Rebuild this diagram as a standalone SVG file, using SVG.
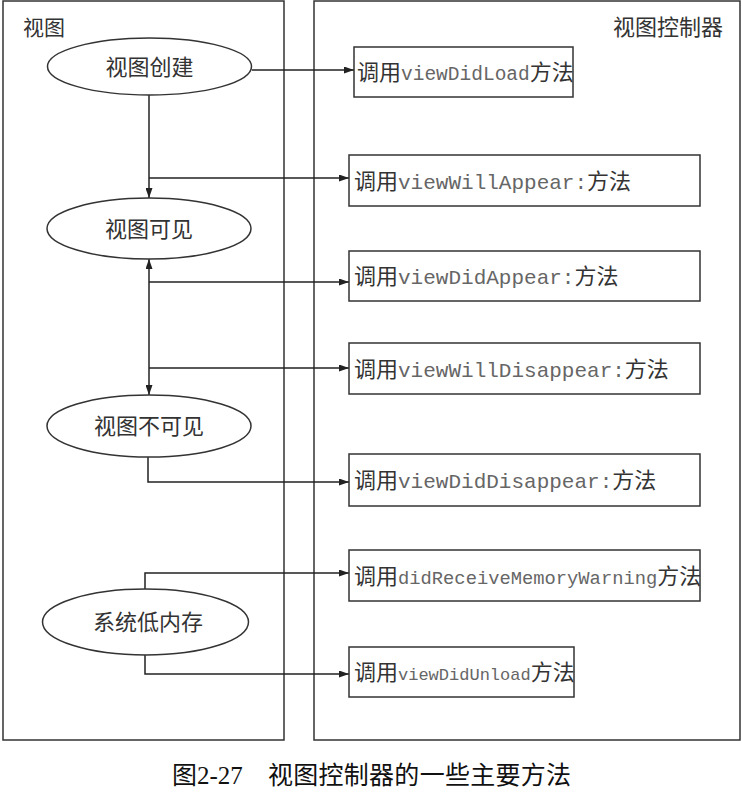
<svg xmlns="http://www.w3.org/2000/svg" width="742" height="794" viewBox="0 0 742 794">
<style>
.panel{fill:#fff;stroke:#333;stroke-width:1.5}
.node ellipse{fill:#fff;stroke:#333;stroke-width:1.5}
.node rect{fill:#fff;stroke:#333;stroke-width:1.5}
.cj{font-family:"Noto Sans CJK SC","Noto Sans",sans-serif;fill:#333}
.el{font-size:22px;text-anchor:middle}
.bx{font-size:22px}
.mono{font-family:"Liberation Mono","DejaVu Sans Mono",monospace;fill:#666}
.conn path{fill:none;stroke:#222;stroke-width:1.5}
.cap{font-family:"Liberation Serif","Noto Sans CJK SC",serif;font-size:25px;fill:#111}
</style>
<defs>
<marker id="ah" viewBox="0 0 10 7" refX="10" refY="3.5" markerWidth="10" markerHeight="7" markerUnits="userSpaceOnUse" orient="auto-start-reverse">
<path d="M0,0 L10,3.5 L0,7 z" fill="#222"/>
</marker>
</defs>
<rect width="742" height="794" fill="#fff"/>
<g id="panel-view">
<rect class="panel" x="3" y="1" width="281" height="739"/>
<text class="cj" x="23" y="35" font-size="21">视图</text>
</g>
<g id="panel-controller">
<rect class="panel" x="314" y="1" width="426" height="739"/>
<text class="cj" x="613" y="35" font-size="22">视图控制器</text>
</g>
<g class="conn" id="connectors">
<path d="M252,70 H354" marker-end="url(#ah)"/>
<path d="M149,95 V198" marker-end="url(#ah)"/>
<path d="M149,178 H349" marker-end="url(#ah)"/>
<path d="M149,259 V395" marker-start="url(#ah)" marker-end="url(#ah)"/>
<path d="M149,282 H349" marker-end="url(#ah)"/>
<path d="M149,368 H349" marker-end="url(#ah)"/>
<path d="M148,457 V482 H349" marker-end="url(#ah)"/>
<path d="M145,589 V573 H349" marker-end="url(#ah)"/>
<path d="M145,655 V674 H349" marker-end="url(#ah)"/>
</g>
<g class="node" id="n-create">
<ellipse cx="149.5" cy="66.5" rx="102" ry="28.5"/>
<text class="cj el" x="149.5" y="75">视图创建</text>
</g>
<g class="node" id="n-visible">
<ellipse cx="149" cy="228.5" rx="102" ry="30.5"/>
<text class="cj el" x="149" y="237">视图可见</text>
</g>
<g class="node" id="n-invisible">
<ellipse cx="149" cy="426" rx="102" ry="31"/>
<text class="cj el" x="149" y="434">视图不可见</text>
</g>
<g class="node" id="n-lowmem">
<ellipse cx="145.5" cy="622" rx="103" ry="33"/>
<text class="cj el" x="148" y="630">系统低内存</text>
</g>
<g class="node" id="m-load">
<rect x="354" y="47" width="219" height="50"/>
<text class="cj bx" x="357" y="80">调用<tspan class="mono" font-size="19.5">viewDidLoad</tspan>方法</text>
</g>
<g class="node" id="m-willappear">
<rect x="349" y="155" width="351" height="51"/>
<text class="cj bx" x="354" y="189">调用<tspan class="mono" font-size="21">viewWillAppear:</tspan>方法</text>
</g>
<g class="node" id="m-didappear">
<rect x="349" y="251" width="351" height="50"/>
<text class="cj bx" x="354" y="284">调用<tspan class="mono" font-size="21">viewDidAppear:</tspan>方法</text>
</g>
<g class="node" id="m-willdisappear">
<rect x="349" y="343" width="351" height="51"/>
<text class="cj bx" x="354" y="377">调用<tspan class="mono" font-size="21">viewWillDisappear:</tspan>方法</text>
</g>
<g class="node" id="m-diddisappear">
<rect x="349" y="454" width="351" height="52"/>
<text class="cj bx" x="354" y="488">调用<tspan class="mono" font-size="21">viewDidDisappear:</tspan>方法</text>
</g>
<g class="node" id="m-memwarn">
<rect x="349" y="550" width="351" height="51"/>
<text class="cj bx" x="354" y="584">调用<tspan class="mono" font-size="18.8">didReceiveMemoryWarning</tspan>方法</text>
</g>
<g class="node" id="m-unload">
<rect x="349" y="647" width="225" height="50"/>
<text class="cj bx" x="354" y="680">调用<tspan class="mono" font-size="17">viewDidUnload</tspan>方法</text>
</g>
<g id="caption">
<text class="cap" x="172" y="784">图2-27</text>
<text class="cap" x="268" y="784" textLength="303">视图控制器的一些主要方法</text>
</g>
</svg>
